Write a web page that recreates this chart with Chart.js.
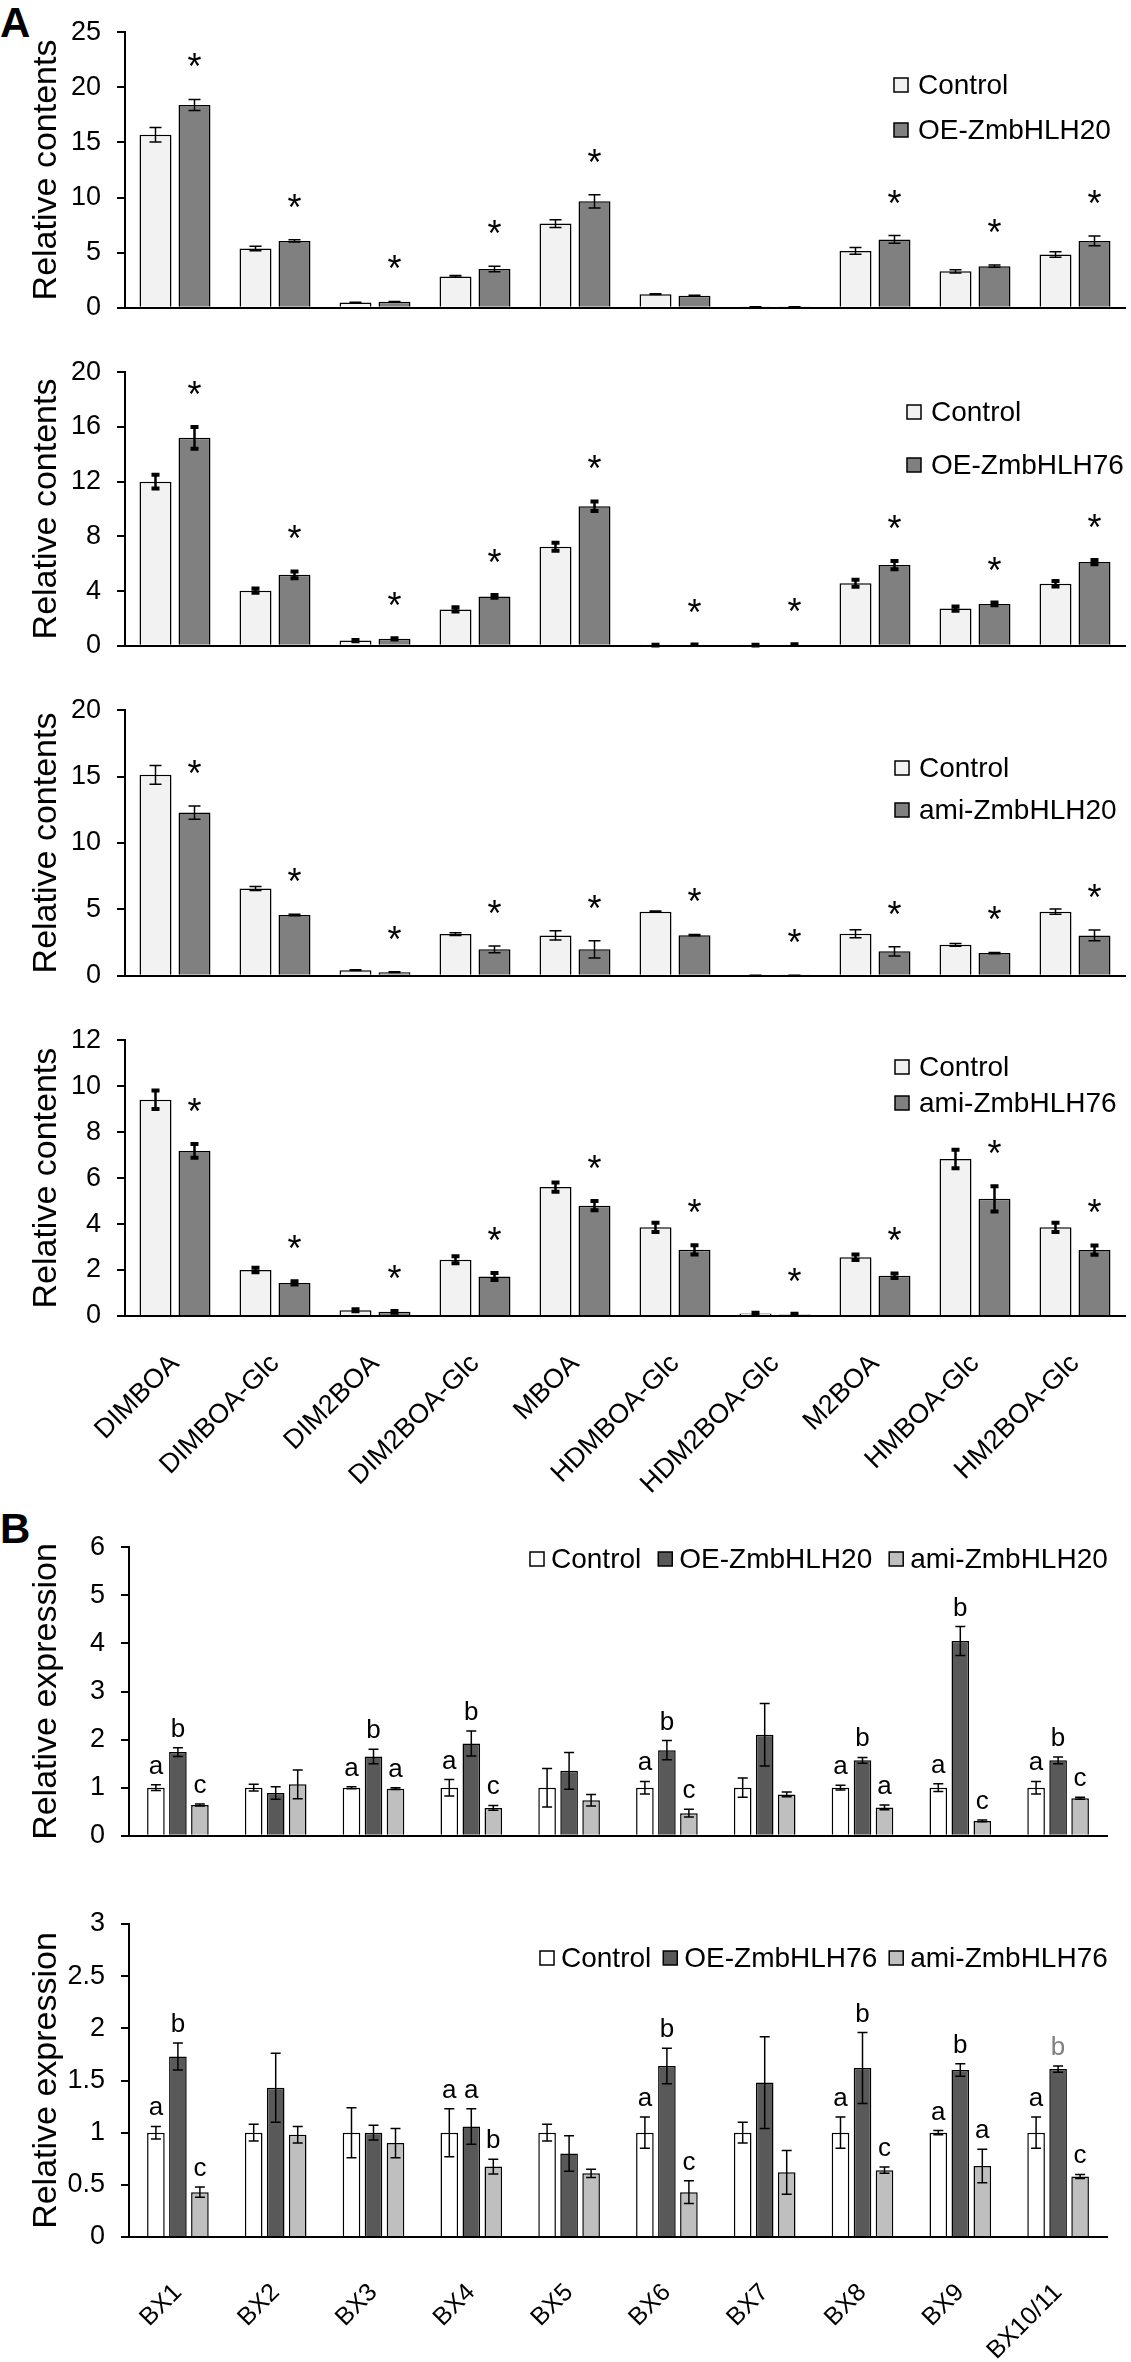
<!DOCTYPE html>
<html>
<head>
<meta charset="utf-8">
<script src="https://cdn.jsdelivr.net/npm/chart.js@4.4.0/dist/chart.umd.min.js"></script>
<style>
  body { margin: 0; background: #fff; width: 1131px; height: 2362px; position: relative; overflow: hidden; }
  canvas { position: absolute; left: 0; }
  .tag { position: absolute; left: 0; font: bold 42px 'Liberation Sans', Arial, sans-serif; line-height: 1; color: #000; }
</style>
</head>
<body>
<div class="tag" style="top:2px">A</div>
<div class="tag" style="top:1508px">B</div>
<script>
// categories
const compounds = ['DIMBOA', 'DIMBOA-Glc', 'DIM2BOA', 'DIM2BOA-Glc', 'MBOA', 'HDMBOA-Glc', 'HDM2BOA-Glc', 'M2BOA', 'HMBOA-Glc', 'HM2BOA-Glc'];
const genes = ['BX1', 'BX2', 'BX3', 'BX4', 'BX5', 'BX6', 'BX7', 'BX8', 'BX9', 'BX10/11'];

// A1: Control vs OE-ZmbHLH20
const a1Control    = [15.7, 5.38, 0.47, 2.84, 7.64, 1.24, 0.08, 5.16, 3.31, 4.83];
const a1ControlErr = [0.65, 0.2, 0.03, 0.08, 0.35, 0.03, 0.01, 0.3, 0.15, 0.25];
const a1OE         = [18.4, 6.07, 0.55, 3.53, 9.66, 1.10, 0.08, 6.2, 3.78, 6.07];
const a1OEErr      = [0.5, 0.1, 0.03, 0.25, 0.6, 0.04, 0.01, 0.35, 0.1, 0.45];
const a1Stars      = ['*', '*', '*', '*', '*', '', '', '*', '*', '*'];

// A2: Control vs OE-ZmbHLH76
const a2Control    = [12.0, 4.03, 0.38, 2.66, 7.24, 0.05, 0.05, 4.57, 2.72, 4.53];
const a2ControlErr = [0.5, 0.15, 0.05, 0.15, 0.3, 0.02, 0.02, 0.25, 0.15, 0.2];
const a2OE         = [15.2, 5.19, 0.51, 3.61, 10.2, 0.07, 0.08, 5.9, 3.06, 6.12];
const a2OEErr      = [0.8, 0.25, 0.05, 0.1, 0.35, 0.02, 0.03, 0.3, 0.1, 0.15];
const a2Stars      = ['*', '*', '*', '*', '*', '*', '*', '*', '*', '*'];

// A3: Control vs ami-ZmbHLH20
const a3Control    = [15.13, 6.58, 0.42, 3.14, 3.04, 4.83, 0.03, 3.17, 2.33, 4.83];
const a3ControlErr = [0.7, 0.15, 0.03, 0.1, 0.35, 0.05, 0.01, 0.3, 0.1, 0.2];
const a3Ami        = [12.29, 4.58, 0.27, 1.99, 1.99, 3.06, 0.03, 1.84, 1.71, 3.04];
const a3AmiErr     = [0.5, 0.05, 0.03, 0.25, 0.65, 0.05, 0.01, 0.35, 0.05, 0.4];
const a3Stars      = ['*', '*', '*', '*', '*', '*', '*', '*', '*', '*'];

// A4: Control vs ami-ZmbHLH76
const a4Control    = [9.41, 2.0, 0.25, 2.45, 5.61, 3.86, 0.11, 2.56, 6.83, 3.86];
const a4ControlErr = [0.4, 0.1, 0.04, 0.15, 0.2, 0.2, 0.03, 0.12, 0.4, 0.2];
const a4Ami        = [7.18, 1.44, 0.18, 1.72, 4.8, 2.88, 0.07, 1.75, 5.1, 2.87];
const a4AmiErr     = [0.3, 0.07, 0.04, 0.15, 0.2, 0.2, 0.03, 0.1, 0.55, 0.2];
const a4Stars      = ['*', '*', '*', '*', '*', '*', '*', '*', '*', '*'];

// B1: ZmbHLH20 lines
const b1Control      = [1, 1, 1, 1, 1, 1, 1, 1, 1, 1];
const b1ControlErr   = [0.06, 0.07, 0.02, 0.17, 0.4, 0.13, 0.2, 0.05, 0.08, 0.13];
const b1OE           = [1.74, 0.89, 1.65, 1.92, 1.35, 1.78, 2.1, 1.57, 4.05, 1.57];
const b1OEErr        = [0.09, 0.13, 0.15, 0.26, 0.38, 0.2, 0.65, 0.06, 0.3, 0.07];
const b1Ami          = [0.64, 1.07, 0.98, 0.58, 0.74, 0.47, 0.86, 0.59, 0.31, 0.78];
const b1AmiErr       = [0.02, 0.3, 0.02, 0.05, 0.12, 0.08, 0.05, 0.05, 0.02, 0.02];
const b1ControlMarks = ['a', '', 'a', 'a', '', 'a', '', 'a', 'a', 'a'];
const b1OEMarks      = ['b', '', 'b', 'b', '', 'b', '', 'b', 'b', 'b'];
const b1AmiMarks     = ['c', '', 'a', 'c', '', 'c', '', 'a', 'c', 'c'];

// B2: ZmbHLH76 lines
const b2Control      = [1, 1, 1, 1, 1, 1, 1, 1, 1, 1];
const b2ControlErr   = [0.06, 0.08, 0.24, 0.23, 0.08, 0.15, 0.1, 0.15, 0.02, 0.15];
const b2OE           = [1.73, 1.43, 1.0, 1.06, 0.8, 1.64, 1.48, 1.62, 1.6, 1.61];
const b2OEErr        = [0.13, 0.33, 0.07, 0.17, 0.17, 0.17, 0.44, 0.34, 0.06, 0.03];
const b2Ami          = [0.43, 0.98, 0.9, 0.675, 0.61, 0.43, 0.62, 0.64, 0.68, 0.58];
const b2AmiErr       = [0.05, 0.08, 0.14, 0.07, 0.04, 0.11, 0.21, 0.03, 0.16, 0.02];
const b2ControlMarks = ['a', '', '', 'a', '', 'a', '', 'a', 'a', 'a'];
const b2OEMarks      = ['b', '', '', 'a', '', 'b', '', 'b', 'b', 'b'];
const b2AmiMarks     = ['c', '', '', 'b', '', 'c', '', 'c', 'a', 'c'];

const FONT = "'Liberation Sans', Arial, sans-serif";

// error bars + significance marks
const errorBars = {
    id: 'errorBars',
    afterDatasetsDraw(chart, args, o) {
        const ctx = chart.ctx;
        const y = chart.scales.y;
        chart.data.datasets.forEach((ds, di) => {
            const meta = chart.getDatasetMeta(di);
            meta.data.forEach((bar, i) => {
                const v = ds.data[i], e = ds.err[i];
                const top = y.getPixelForValue(v + e);
                const bot = y.getPixelForValue(v - e);
                ctx.save();
                ctx.strokeStyle = '#000';
                ctx.lineWidth = o.width;
                ctx.beginPath();
                ctx.moveTo(bar.x, top);
                ctx.lineTo(bar.x, bot);
                ctx.stroke();
                ctx.lineWidth = o.capWidth;
                ctx.beginPath();
                ctx.moveTo(bar.x - o.cap, top);
                ctx.lineTo(bar.x + o.cap, top);
                ctx.moveTo(bar.x - o.cap, bot);
                ctx.lineTo(bar.x + o.cap, bot);
                ctx.stroke();
                const m = ds.marks && ds.marks[i];
                if (m) {
                    ctx.font = o.markFont;
                    ctx.textAlign = 'center';
                    ctx.textBaseline = 'alphabetic';
                    const grey = o.greyMark && o.greyMark[0] === di && o.greyMark[1] === i;
                    ctx.fillStyle = grey ? '#808080' : '#000';
                    ctx.fillText(m, bar.x, top - o.markGap);
                }
                ctx.restore();
            });
        });
    }
};

// legend with small outlined squares
const boxLegend = {
    id: 'boxLegend',
    afterDraw(chart, args, o) {
        const ctx = chart.ctx;
        ctx.save();
        ctx.font = '28px ' + FONT;
        ctx.textAlign = 'left';
        ctx.textBaseline = 'middle';
        let x = o.x, y = o.y;
        chart.data.datasets.forEach(ds => {
            ctx.fillStyle = ds.backgroundColor;
            ctx.fillRect(x, y - 7, 14, 14);
            ctx.strokeStyle = '#000';
            ctx.lineWidth = 1.5;
            ctx.strokeRect(x, y - 7, 14, 14);
            ctx.fillStyle = '#000';
            ctx.fillText(ds.label, x + 14 + o.textGap, y + 1);
            if (o.row) {
                x += 14 + o.textGap + ctx.measureText(ds.label).width + o.itemGap;
            } else {
                y += o.lineGap;
            }
        });
        ctx.restore();
    }
};

// area = [left, right, top, bottom] of the plot in page pixels
function buildPanel(cfg) {
    const c = document.createElement('canvas');
    c.width = 1131;
    c.height = cfg.bottom - cfg.top;
    c.style.top = cfg.top + 'px';
    document.body.appendChild(c);
    const legend = Object.assign({}, cfg.legend, { y: cfg.legend.y - cfg.top });
    const datasets = cfg.series.map(s => ({
        label: s.label,
        data: s.data,
        err: s.err,
        marks: s.marks,
        backgroundColor: s.color,
        borderColor: '#000',
        borderWidth: 1.5,
        barPercentage: cfg.barPct,
        categoryPercentage: cfg.catPct
    }));
    return new Chart(c, {
        type: 'bar',
        data: { labels: cfg.labels, datasets: datasets },
        options: {
            responsive: false,
            animation: false,
            layout: { padding: { left: 0, right: 1131 - cfg.area[1], top: cfg.area[2] - cfg.top, bottom: 0 } },
            plugins: {
                legend: { display: false },
                tooltip: { enabled: false },
                boxLegend: legend,
                errorBars: cfg.errStyle
            },
            scales: {
                x: {
                    grid: { display: false },
                    border: { display: true, color: '#000', width: 2 },
                    ticks: {
                        display: cfg.showX,
                        color: '#000',
                        font: { family: FONT, size: cfg.xFont },
                        minRotation: 45,
                        maxRotation: 45,
                        autoSkip: false,
                        padding: cfg.xPad || 0
                    },
                    afterFit: s => { s.height = cfg.bottom - cfg.area[3]; }
                },
                y: {
                    min: 0,
                    max: cfg.max,
                    ticks: {
                        stepSize: cfg.step,
                        color: '#000',
                        font: { family: FONT, size: 27 },
                        padding: 16,
                        callback: v => String(v)
                    },
                    grid: { display: true, drawOnChartArea: false, drawTicks: true, tickLength: 8, color: '#000', lineWidth: 2 },
                    border: { display: true, color: '#000', width: 2 },
                    title: {
                        display: true,
                        text: cfg.yTitle,
                        color: '#000',
                        font: { family: FONT, size: 34 },
                        padding: { top: 26, bottom: 0 }
                    },
                    afterFit: s => { s.width = cfg.area[0]; }
                }
            }
        },
        plugins: [errorBars, boxLegend]
    });
}

const thinErr = { width: 1.5, capWidth: 1.5, cap: 6, markFont: '36px ' + FONT, markGap: 20 };
const boldErr = { width: 2.5, capWidth: 4, cap: 4, markFont: '36px ' + FONT, markGap: 20 };
const geneErr = { width: 1.5, capWidth: 1.5, cap: 5, markFont: '26px ' + FONT, markGap: 11 };

buildPanel({
    top: 0, bottom: 340, area: [125, 1125, 23, 325], max: 25, step: 5,
    labels: compounds, showX: false, xFont: 27, yTitle: 'Relative contents',
    barPct: 0.82, catPct: 0.78, errStyle: thinErr,
    legend: { x: 894, y: 85, lineGap: 45, textGap: 10 },
    series: [
        { label: 'Control', data: a1Control, err: a1ControlErr, color: '#f2f2f2' },
        { label: 'OE-ZmbHLH20', data: a1OE, err: a1OEErr, marks: a1Stars, color: '#808080' }
    ]
});

buildPanel({
    top: 340, bottom: 678, area: [125, 1125, 359, 662], max: 20, step: 4,
    labels: compounds, showX: false, xFont: 27, yTitle: 'Relative contents',
    barPct: 0.82, catPct: 0.78, errStyle: boldErr,
    legend: { x: 907, y: 412, lineGap: 53, textGap: 10 },
    series: [
        { label: 'Control', data: a2Control, err: a2ControlErr, color: '#f2f2f2' },
        { label: 'OE-ZmbHLH76', data: a2OE, err: a2OEErr, marks: a2Stars, color: '#808080' }
    ]
});

buildPanel({
    top: 678, bottom: 1008, area: [125, 1125, 694, 995], max: 20, step: 5,
    labels: compounds, showX: false, xFont: 27, yTitle: 'Relative contents',
    barPct: 0.82, catPct: 0.78, errStyle: thinErr,
    legend: { x: 895, y: 768, lineGap: 42, textGap: 10 },
    series: [
        { label: 'Control', data: a3Control, err: a3ControlErr, color: '#f2f2f2' },
        { label: 'ami-ZmbHLH20', data: a3Ami, err: a3AmiErr, marks: a3Stars, color: '#808080' }
    ]
});

buildPanel({
    top: 1008, bottom: 1512, area: [125, 1125, 1030, 1316], max: 12, step: 2,
    labels: compounds, showX: true, xFont: 27, xPad: 24, yTitle: 'Relative contents',
    barPct: 0.82, catPct: 0.78, errStyle: boldErr,
    legend: { x: 895, y: 1067, lineGap: 36, textGap: 10 },
    series: [
        { label: 'Control', data: a4Control, err: a4ControlErr, color: '#f2f2f2' },
        { label: 'ami-ZmbHLH76', data: a4Ami, err: a4AmiErr, marks: a4Stars, color: '#808080' }
    ]
});

buildPanel({
    top: 1515, bottom: 1868, area: [129, 1107, 1544, 1855], max: 6, step: 1,
    labels: genes, showX: false, xFont: 25, yTitle: 'Relative expression',
    barPct: 0.8, catPct: 0.675, errStyle: geneErr,
    legend: { x: 530, y: 1559, row: true, textGap: 7, itemGap: 17 },
    series: [
        { label: 'Control', data: b1Control, err: b1ControlErr, marks: b1ControlMarks, color: '#ffffff' },
        { label: 'OE-ZmbHLH20', data: b1OE, err: b1OEErr, marks: b1OEMarks, color: '#595959' },
        { label: 'ami-ZmbHLH20', data: b1Ami, err: b1AmiErr, marks: b1AmiMarks, color: '#bfbfbf' }
    ]
});

buildPanel({
    top: 1868, bottom: 2362, area: [129, 1107, 1924, 2237], max: 3, step: 0.5,
    labels: genes, showX: true, xFont: 25, xPad: 33, yTitle: 'Relative expression',
    barPct: 0.8, catPct: 0.675, errStyle: Object.assign({}, geneErr, { greyMark: [1, 9] }),
    legend: { x: 540, y: 1958, row: true, textGap: 7, itemGap: 12 },
    series: [
        { label: 'Control', data: b2Control, err: b2ControlErr, marks: b2ControlMarks, color: '#ffffff' },
        { label: 'OE-ZmbHLH76', data: b2OE, err: b2OEErr, marks: b2OEMarks, color: '#595959' },
        { label: 'ami-ZmbHLH76', data: b2Ami, err: b2AmiErr, marks: b2AmiMarks, color: '#bfbfbf' }
    ]
});
</script>
</body>
</html>
